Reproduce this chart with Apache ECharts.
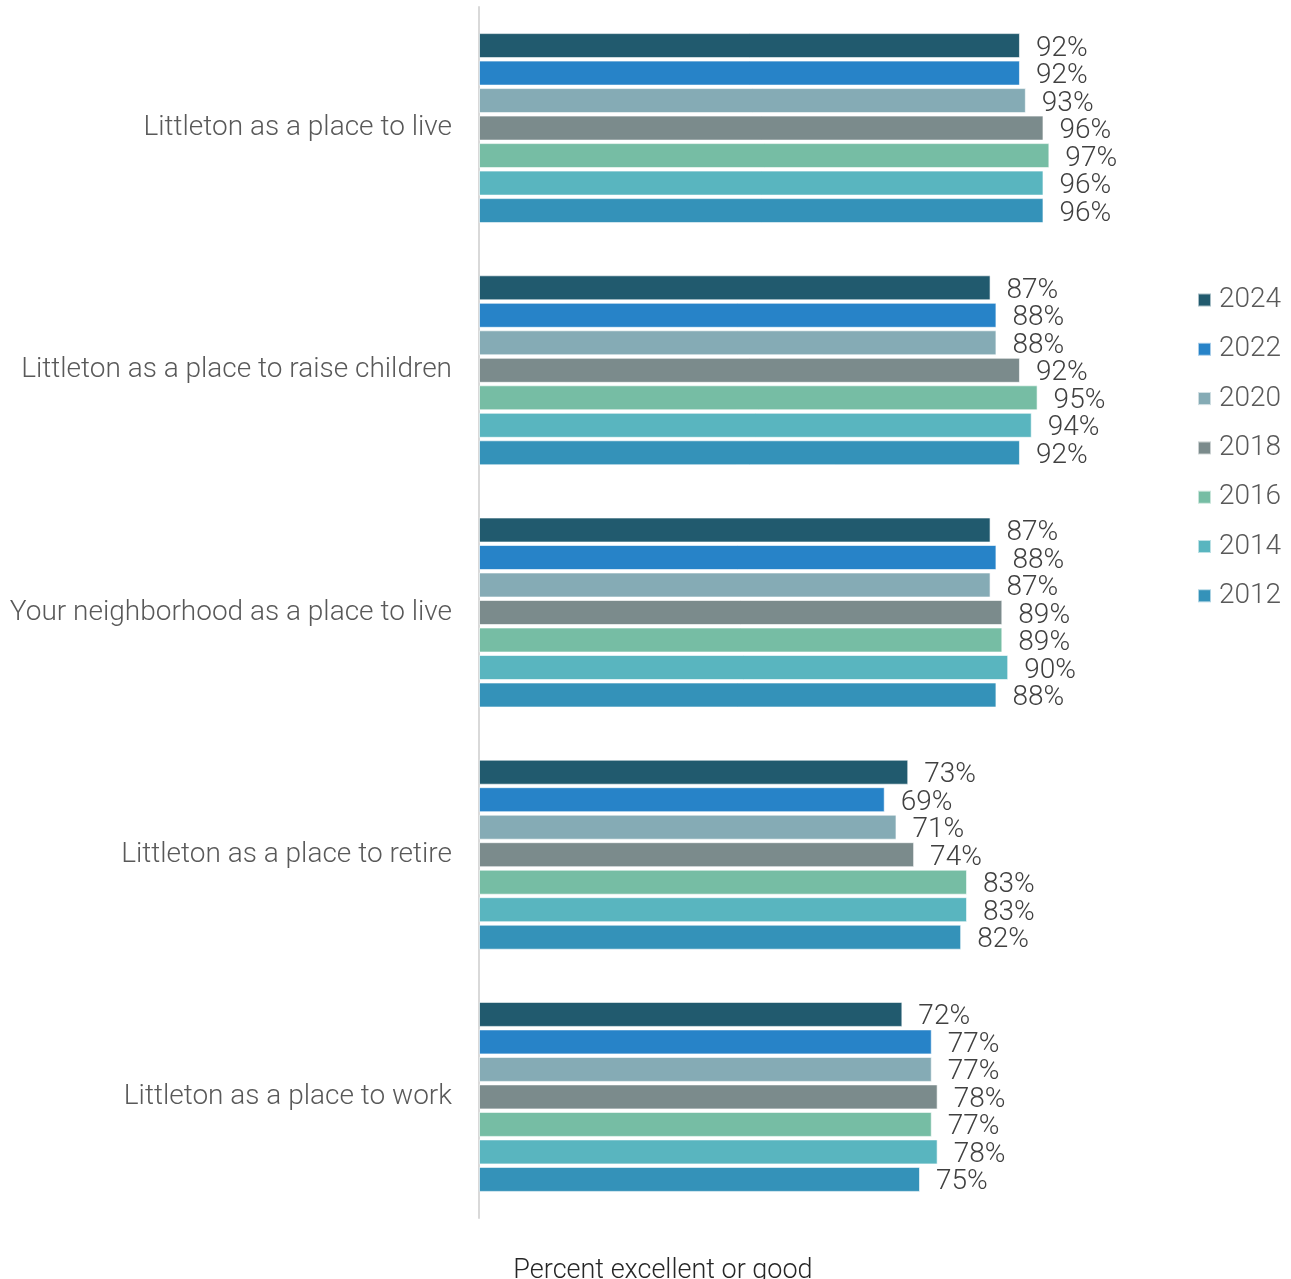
<!DOCTYPE html>
<html><head><meta charset="utf-8">
<script src="https://cdn.jsdelivr.net/npm/echarts@6/dist/echarts.min.js"></script>
<style>html,body{margin:0;padding:0;background:#fff}#c{width:1291px;height:1279px}</style>
</head><body><div id="c"></div>
<script>
const categories = [
  'Littleton as a place to live',
  'Littleton as a place to raise children',
  'Your neighborhood as a place to live',
  'Littleton as a place to retire',
  'Littleton as a place to work'
];
const years = ['2024','2022','2020','2018','2016','2014','2012'];
const colors = ['#215a6e','#2783c8','#85abb5','#7b8b8c','#76bda4','#59b5bf','#3492b9'];
const v2024 = [92, 87, 87, 73, 72];
const v2022 = [92, 88, 88, 69, 77];
const v2020 = [93, 88, 87, 71, 77];
const v2018 = [96, 92, 89, 74, 78];
const v2016 = [97, 95, 89, 83, 77];
const v2014 = [96, 94, 90, 83, 78];
const v2012 = [96, 92, 88, 82, 75];
const seriesValues = [v2024, v2022, v2020, v2018, v2016, v2014, v2012];

const font = 'Roboto';
const chart = echarts.init(document.getElementById('c'));
chart.setOption({
  animation: false,
  textStyle: {fontFamily: font, fontWeight: 300},
  legend: {
    orient: 'vertical', left: 1192, top: 281,
    icon: 'rect', itemWidth: 13, itemHeight: 13, itemGap: 21.3,
    textStyle: {fontFamily: font, fontWeight: 300, fontSize: 28, lineHeight: 28, color: '#595959', padding: [0,0,0,3]},
    data: years
  },
  grid: {left: 479, right: 224, top: 7, bottom: 61, outerBoundsMode: 'none', containLabel: false},
  xAxis: {
    type: 'value', min: 0, max: 100,
    axisLine: {show: false}, axisTick: {show: false}, axisLabel: {show: false}, splitLine: {show: false},
    name: 'Percent excellent or good', nameLocation: 'middle', nameGap: 40,
    nameTextStyle: {fontFamily: font, fontWeight: 300, fontSize: 27, color: '#262626', padding: [0, 220, 0, 0]}
  },
  yAxis: {
    type: 'category', data: categories, inverse: true,
    axisLine: {show: true, lineStyle: {color: '#d9d9d9', width: 2}},
    axisTick: {show: false},
    axisLabel: {fontFamily: font, fontWeight: 300, fontSize: 28, color: '#595959', margin: 27, padding: [4, 0, 0, 0]}
  },
  series: years.map((y, i) => ({
    name: y, type: 'bar', data: seriesValues[i],
    barWidth: 25, barGap: '10%',
    itemStyle: {color: colors[i], borderColor: 'rgba(255,255,255,0.6)', borderWidth: 1},
    label: {show: true, position: 'right', distance: 16, offset: [0, 3], formatter: '{c}%',
      fontFamily: font, fontWeight: 300, fontSize: 28, color: '#404040'}
  }))
});
</script></body></html>
